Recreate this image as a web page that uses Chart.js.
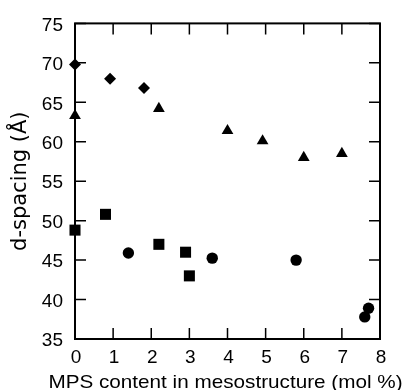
<!DOCTYPE html>
<html>
<head>
<meta charset="utf-8">
<script src="https://cdn.jsdelivr.net/npm/chart.js@4/dist/chart.umd.min.js"></script>
<style>
html,body{margin:0;padding:0;background:#fff;}
#wrap{width:407px;height:390px;position:relative;}
</style>
</head>
<body>
<div id="wrap"><canvas id="c" width="407" height="390"></canvas></div>
<script>
// Data
const diamondX = [0, 0.92, 1.81];
const diamondY = [69.8, 68.0, 66.8];
const triangleX = [0, 2.2, 4.0, 4.92, 6.0, 7.0];
const triangleY = [63.3, 64.2, 61.4, 60.1, 58.0, 58.5];
const squareX = [0, 0.8, 2.2, 2.9, 3.0];
const squareY = [48.8, 50.8, 47.0, 46.0, 43.0];
const circleX = [1.4, 3.6, 5.8, 7.6, 7.7];
const circleY = [45.9, 45.25, 45.0, 37.8, 38.9];
const xTicks = [0, 1, 2, 3, 4, 5, 6, 7, 8];
const yTicks = [35, 40, 45, 50, 55, 60, 65, 70, 75];
const xTitle = 'MPS content in mesostructure (mol %)';
const yTitle = 'd-spacing (Å)';

const pts = (xs, ys) => xs.map((x, i) => ({x: x, y: ys[i]}));

const frameTicks = {
  id: 'frameTicks',
  beforeDatasetsDraw(chart) {
    const {ctx, chartArea: a, scales} = chart;
    const xs = scales.x, ys = scales.y;
    const L = 11;
    ctx.save();
    ctx.strokeStyle = '#000';
    ctx.lineWidth = 1.5;
    ctx.beginPath();
    xTicks.forEach(v => {
      const px = xs.getPixelForValue(v);
      ctx.moveTo(px, a.bottom); ctx.lineTo(px, a.bottom - L);
      ctx.moveTo(px, a.top); ctx.lineTo(px, a.top + L);
    });
    yTicks.forEach(v => {
      const py = ys.getPixelForValue(v);
      ctx.moveTo(a.left, py); ctx.lineTo(a.left + L, py);
      ctx.moveTo(a.right, py); ctx.lineTo(a.right - L, py);
    });
    ctx.stroke();
    ctx.lineWidth = 2;
    ctx.strokeRect(a.left, a.top, a.right - a.left, a.bottom - a.top);
    ctx.restore();
  },
  afterDraw(chart) {
    // x-axis title (drawn here so Chart.js does not squeeze it to the axis width)
    const {ctx, chartArea: a} = chart;
    ctx.save();
    ctx.fillStyle = '#000';
    ctx.font = '17.7px "Liberation Sans"';
    ctx.textAlign = 'center';
    ctx.textBaseline = 'alphabetic';
    const cx = (a.left + a.right) / 2 - 2;
    ctx.translate(cx, 388);
    ctx.scale(1.17, 1);
    ctx.fillText(xTitle, 0, 0);
    ctx.restore();
  }
};

const common = {showLine: false, backgroundColor: '#000', borderColor: '#000', borderWidth: 0, clip: false, pointHoverRadius: 0};

new Chart(document.getElementById('c'), {
  type: 'scatter',
  data: {
    datasets: [
      Object.assign({label: 'diamond', data: pts(diamondX, diamondY), pointStyle: 'rectRot', pointRadius: 6}, common),
      Object.assign({label: 'triangle', data: pts(triangleX, triangleY), pointStyle: 'triangle', pointRadius: 6.8}, common),
      Object.assign({label: 'square', data: pts(squareX, squareY), pointStyle: 'rect', pointRadius: 7.8}, common),
      Object.assign({label: 'circle', data: pts(circleX, circleY), pointStyle: 'circle', pointRadius: 5.7}, common)
    ]
  },
  options: {
    responsive: false,
    animation: false,
    devicePixelRatio: 1,
    layout: {padding: {top: 19, right: 27, left: 0, bottom: 0}},
    plugins: {legend: {display: false}, tooltip: {enabled: false}},
    scales: {
      x: {
        type: 'linear', min: 0, max: 8,
        afterFit: s => { s.height = 51; },
        afterBuildTicks: s => { s.ticks = xTicks.map(v => ({value: v})); },
        grid: {display: false, drawTicks: false},
        border: {display: false},
        ticks: {color: '#000', padding: 7, labelOffset: 1, font: {family: 'Liberation Sans', size: 19}},
        title: {display: false, text: xTitle}
      },
      y: {
        type: 'linear', min: 35, max: 75,
        afterFit: s => { s.width = 75; },
        afterBuildTicks: s => { s.ticks = yTicks.map(v => ({value: v})); },
        grid: {display: false, drawTicks: false},
        border: {display: false},
        ticks: {color: '#000', padding: 12, labelOffset: 2, font: {family: 'Liberation Sans', size: 19}},
        title: {display: true, text: yTitle, color: '#000', padding: {top: 8, bottom: 0},
          font: {family: 'DejaVu Sans', size: 21}}
      }
    }
  },
  plugins: [frameTicks]
});
</script>
</body>
</html>
